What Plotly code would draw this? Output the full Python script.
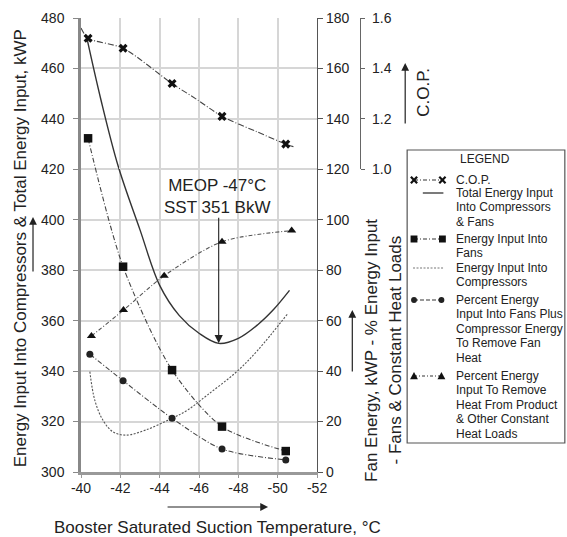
import plotly.graph_objects as go

# ---------------------------------------------------------------- data
x_ticks = [-40, -42, -44, -46, -48, -50, -52]
x_tick_labels = ["-40", "-42", "-44", "-46", "-48", "-50", "-52"]

# C.O.P. at the five test suction temperatures
cop_temp = [-40.36, -42.14, -44.63, -47.17, -50.41]
cop_value = [1.52, 1.48, 1.34, 1.21, 1.10]
# faired C.O.P. curve
cop_curve_temp = [-40.0, -40.36, -42.14, -44.63, -45.93, -47.17, -48.91, -50.41, -50.8]
cop_curve_value = [1.56, 1.52, 1.48, 1.34, 1.275, 1.21, 1.15, 1.10, 1.09]

# total energy input into compressors & fans, kWP
total_temp = [-40.3, -41.0, -41.9, -43.0, -44.0, -45.0, -46.0, -47.0, -48.0, -49.0, -49.8, -50.6]
total_kwp = [472, 448, 421, 396, 374, 362, 355, 351, 353, 358.5, 364.5, 372]

# energy input into compressors, kWP
comp_temp = [-40.45, -40.70, -41.11, -41.61, -42.28, -43.27, -44.63, -45.43, -46.42, -47.92, -49.0, -50.49]
comp_kwp = [339.8, 328.5, 320.6, 316.0, 314.6, 316.6, 321.3, 324.6, 330.5, 339.8, 348.4, 362.6]

# energy input into fans, kWP (right scale)
fan_temp = [-40.36, -42.14, -44.63, -47.17, -50.41]
fan_kwp = [132.3, 81.4, 40.4, 18.0, 8.3]

# % energy into fans plus compressor energy to remove fan heat
pct_fan_temp = [-40.45, -42.14, -44.63, -47.17, -50.41]
pct_fan = [46.7, 36.2, 21.3, 9.1, 4.8]

# % energy to remove heat from product & other constant loads
pct_load_temp = [-40.53, -42.16, -44.23, -47.17, -50.71]
pct_load = [53.9, 64.2, 77.8, 91.3, 95.7]

# most economical operating point
meop_temp = -47
meop_kwp = 351

# ---------------------------------------------------------------- geometry
W, H = 567, 537
ML, MR, MT, MB = 81, 0, 18, 65
PW = W - ML - MR
PH = H - MT - MB
PLOT_RIGHT = 322      # right edge of the plotting area, px
COP_AXIS_X = 366      # C.O.P. axis line, px


def px(x):
    return (x - ML) / PW


def py(y):
    return (H - MB - y) / PH


FONT = "Liberation Sans, Arial, sans-serif"
INK = "#222222"

fig = go.Figure()

# ---------------------------------------------------------------- curves
fig.add_trace(go.Scatter(
    x=total_temp, y=total_kwp, mode="lines",
    line=dict(color="#333333", width=1.4, shape="spline", smoothing=1.0),
    xaxis="x", yaxis="y"))

fig.add_trace(go.Scatter(
    x=comp_temp, y=comp_kwp, mode="lines",
    line=dict(color="#555555", width=1.1, dash="2px,1.5px", shape="spline", smoothing=1.0),
    xaxis="x", yaxis="y"))

fig.add_trace(go.Scatter(
    x=fan_temp, y=fan_kwp, mode="lines+markers",
    line=dict(color="#444444", width=1.1, dash="5px,2px,1px,2px", shape="spline", smoothing=0.8),
    marker=dict(symbol="square", size=8.5, color="#111111"),
    xaxis="x", yaxis="y2"))

fig.add_trace(go.Scatter(
    x=pct_fan_temp, y=pct_fan, mode="lines+markers",
    line=dict(color="#444444", width=1.1, dash="5px,2px,1px,2px", shape="spline", smoothing=0.8),
    marker=dict(symbol="circle", size=7, color="#222222"),
    xaxis="x", yaxis="y2"))

fig.add_trace(go.Scatter(
    x=pct_load_temp, y=pct_load, mode="lines+markers",
    line=dict(color="#555555", width=1.1, dash="4px,2px,1px,2px", shape="spline", smoothing=0.8),
    marker=dict(symbol="triangle-up", size=8, color="#111111"),
    xaxis="x", yaxis="y2"))

fig.add_trace(go.Scatter(
    x=cop_curve_temp, y=cop_curve_value, mode="lines",
    line=dict(color="#444444", width=1.1, dash="6px,2px,1px,2px", shape="spline", smoothing=0.8),
    xaxis="x", yaxis="y3"))

fig.add_trace(go.Scatter(
    x=cop_temp, y=cop_value, mode="markers",
    marker=dict(symbol="x", size=8, color="#111111"),
    xaxis="x", yaxis="y3"))

# ---------------------------------------------------------------- axes
tickfont = dict(family=FONT, size=14, color=INK)
GRID = "#d6d6d6"

fig.update_layout(
    width=W, height=H,
    margin=dict(l=ML, r=MR, t=MT, b=MB, pad=0),
    paper_bgcolor="white", plot_bgcolor="rgba(0,0,0,0)",
    showlegend=False,
    font=dict(family=FONT, color=INK),
    xaxis=dict(
        domain=[0, (PLOT_RIGHT - ML) / PW],
        range=[-40, -52], tickvals=x_ticks, ticktext=x_tick_labels,
        showgrid=True, gridcolor=GRID, gridwidth=1.8,
        showline=True, linecolor="#999999", linewidth=2.5,
        ticks="outside", ticklen=3, tickcolor="#999999",
        ticklabelstandoff=-2,
        tickfont=tickfont, zeroline=False,
    ),
    yaxis=dict(
        range=[300, 480], dtick=20, tick0=300,
        showgrid=True, gridcolor=GRID, gridwidth=1.8,
        showline=True, linecolor="#888888", linewidth=2.5,
        ticks="outside", ticklen=5, tickcolor="#888888",
        ticklabelstandoff=6,
        tickfont=tickfont, zeroline=False,
    ),
    yaxis2=dict(
        overlaying="y", side="right", anchor="x",
        range=[0, 180], dtick=20, tick0=0,
        showgrid=False, zeroline=False,
        showline=True, linecolor="#555555", linewidth=1.3,
        ticks="outside", ticklen=5, tickcolor="#555555",
        tickfont=tickfont,
    ),
    yaxis3=dict(
        domain=[2 / 3, 1], anchor="free", position=(COP_AXIS_X - ML) / PW, side="right",
        range=[1.0, 1.6], dtick=0.2, tick0=1.0, tickformat=".1f",
        showgrid=False, zeroline=False,
        showline=True, linecolor="#666666", linewidth=1.3,
        ticks="outside", ticklen=4, tickcolor="#666666",
        ticklabelstandoff=4,
        tickfont=tickfont,
    ),
)

# ---------------------------------------------------------------- titles
title_font = dict(family=FONT, size=17, color=INK)
ann = []
ann.append(dict(text="Energy Input Into Compressors & Total Energy Input, kWP",
                x=px(20), y=py(248), xref="paper", yref="paper", textangle=-90,
                showarrow=False, font=title_font, xanchor="center", yanchor="middle"))
ann.append(dict(text="Fan Energy, kWP - % Energy Input",
                x=px(377), y=py(350), xref="paper", yref="paper", textangle=-90,
                showarrow=False, font=title_font, xanchor="center", yanchor="middle"))
ann.append(dict(text="- Fans & Constant Heat Loads",
                x=px(402), y=py(350), xref="paper", yref="paper", textangle=-90,
                showarrow=False, font=title_font, xanchor="center", yanchor="middle"))
ann.append(dict(text="C.O.P.",
                x=px(430), y=py(92), xref="paper", yref="paper", textangle=-90,
                showarrow=False, font=title_font, xanchor="center", yanchor="middle"))
ann.append(dict(text="Booster Saturated Suction Temperature, °C",
                x=px(220), y=py(527), xref="paper", yref="paper",
                showarrow=False, font=title_font, xanchor="center", yanchor="middle"))

# direction arrows beside the axis titles
for tip, (dx, dy) in [((32, 217), (0, 56)), ((358, 310), (0, 63)),
                      ((412, 63), (0, 62)), ((272, 507), (-102, 0))]:
    ann.append(dict(text="", x=px(tip[0]), y=py(tip[1]), xref="paper", yref="paper",
                    showarrow=True, ax=dx, ay=dy, arrowhead=2, arrowsize=1.3,
                    arrowwidth=1.2, arrowcolor="#222222", standoff=0, startstandoff=0))

# MEOP call-out
ann.append(dict(text=f"MEOP {meop_temp}°C<br>SST {meop_kwp} BkW",
                x=px(220), y=py(196), xref="paper", yref="paper",
                showarrow=False, font=dict(family=FONT, size=17, color=INK),
                align="center", xanchor="center", yanchor="middle"))
ann.append(dict(text="", x=meop_temp, y=meop_kwp, xref="x", yref="y",
                showarrow=True, ax=0, ay=-127, arrowhead=2, arrowsize=1.5,
                arrowwidth=1.1, arrowcolor="#222222", standoff=0))

# ---------------------------------------------------------------- legend
shapes = []
shapes.append(dict(type="rect", xref="paper", yref="paper",
                   x0=px(414), x1=px(575), y0=py(443), y1=py(150),
                   line=dict(color="#555555", width=1.2), fillcolor="white", layer="below"))

leg_font = dict(family=FONT, size=12, color=INK)
ann.append(dict(text="LEGEND", x=px(493), y=py(159), xref="paper", yref="paper",
                showarrow=False, font=leg_font, xanchor="center", yanchor="middle"))

legend_items = [
    (180, ["C.O.P."]),
    (193, ["Total Energy Input", "Into Compressors", "& Fans"]),
    (239, ["Energy Input Into", "Fans"]),
    (268, ["Energy Input Into", "Compressors"]),
    (300, ["Percent Energy", "Input Into Fans Plus", "Compressor Energy",
           "To Remove Fan", "Heat"]),
    (376, ["Percent Energy", "Input To Remove", "Heat From Product",
           "& Other Constant", "Heat Loads"]),
]
for y0, lines in legend_items:
    for i, line in enumerate(lines):
        ann.append(dict(text=line, x=px(462), y=py(y0 + i * 14.4), xref="paper", yref="paper",
                        showarrow=False, font=leg_font, xanchor="left", yanchor="middle"))


def seg(x0, x1, y, dash, color="#333333", width=1.1):
    shapes.append(dict(type="line", xref="paper", yref="paper",
                       x0=px(x0), x1=px(x1), y0=py(y), y1=py(y),
                       line=dict(color=color, width=width, dash=dash)))


def xmark(cx, cy, r=3.2):
    for a in (-1, 1):
        shapes.append(dict(type="line", xref="paper", yref="paper",
                           x0=px(cx - r), x1=px(cx + r), y0=py(cy + a * r), y1=py(cy - a * r),
                           line=dict(color="#111111", width=2.2)))


def square(cx, cy, r=3.5):
    shapes.append(dict(type="rect", xref="paper", yref="paper",
                       x0=px(cx - r), x1=px(cx + r), y0=py(cy + r), y1=py(cy - r),
                       line=dict(width=0), fillcolor="#111111"))


def dot(cx, cy, r=3):
    shapes.append(dict(type="circle", xref="paper", yref="paper",
                       x0=px(cx - r), x1=px(cx + r), y0=py(cy + r), y1=py(cy - r),
                       line=dict(width=0), fillcolor="#222222"))


def tri(cx, cy, r=4):
    path = (f"M {px(cx - r)},{py(cy + r * 0.8)} L {px(cx + r)},{py(cy + r * 0.8)} "
            f"L {px(cx)},{py(cy - r)} Z")
    shapes.append(dict(type="path", xref="paper", yref="paper", path=path,
                       line=dict(width=0), fillcolor="#111111"))


seg(421, 450, 180, "4px,2px,1px,2px")
xmark(421, 180); xmark(450, 180)
seg(430, 451, 193, "solid", "#333333", 1.3)
seg(421, 450, 239, "4px,2px,1px,2px")
square(421, 239); square(450, 239)
seg(420, 451, 268, "2px,1.5px", "#777777", 1.1)
seg(421, 449, 300, "4px,2px")
dot(421, 300); dot(449, 300)
seg(421, 449, 376, "3px,2px,1px,2px")
tri(421, 376); tri(449, 376)

fig.update_layout(annotations=ann, shapes=shapes)

fig.write_html("out.html")
